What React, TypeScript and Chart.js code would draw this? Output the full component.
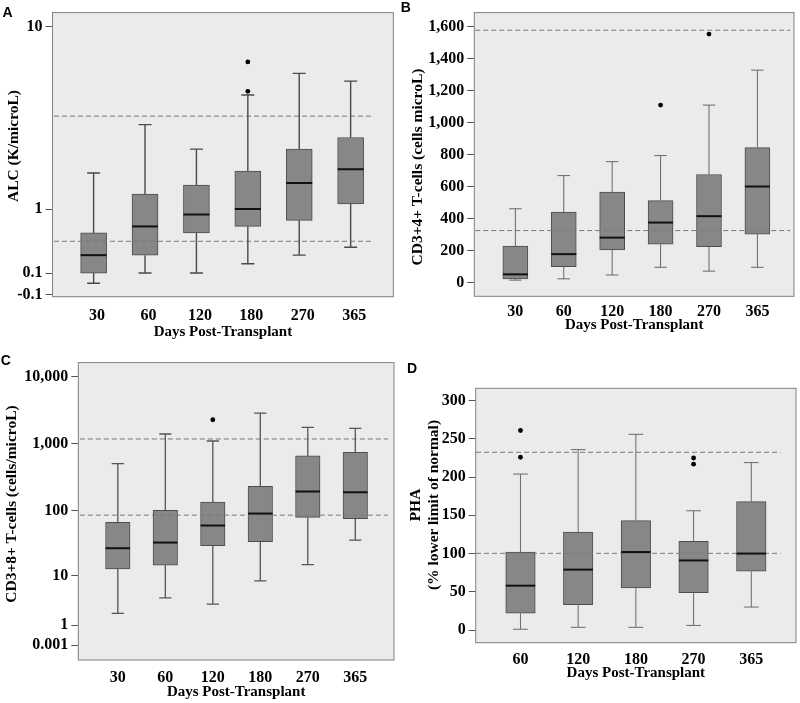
import React, { useEffect, useRef } from "react";
import { Chart, registerables } from "chart.js";

Chart.register(...registerables);

// ---------------- Data ----------------
// Panel A: ALC (K/microL)
const daysA = ["30", "60", "120", "180", "270", "365"];
const alcMin = [0.0, 0.1, 0.1, 0.2, 0.3, 0.4];
const alcQ1 = [0.1, 0.3, 0.6, 0.7, 0.8, 1.1];
const alcMedian = [0.3, 0.7, 0.9, 1.0, 1.55, 1.9];
const alcQ3 = [0.6, 1.3, 1.5, 1.85, 2.5, 2.9];
const alcMax = [1.8, 3.4, 2.5, 4.8, 6.1, 5.6];
const alcOutlierDays = ["180", "180"];
const alcOutlierValues = [5.0, 6.9];
const alcRefLines = [3.76, 0.48];
const alcTicks = [10, 1, 0.1, -0.1];
const alcTickLabels = ["10", "1", "0.1", "-0.1"];
const alcAxisRange = [-0.118, 11.52];

// Panel B: CD3+4+ T-cells
const daysB = ["30", "60", "120", "180", "270", "365"];
const cd4Min = [18, 26, 50, 98, 74, 98];
const cd4Q1 = [25, 102, 206, 242, 226, 305];
const cd4Median = [54, 180, 283, 377, 417, 602];
const cd4Q3 = [231, 442, 568, 514, 677, 845];
const cd4Max = [463, 670, 757, 795, 1110, 1328];
const cd4OutlierDays = ["180", "270"];
const cd4OutlierValues = [1110, 1553];
const cd4RefLines = [1577, 327];
const cd4Ticks = [0, 200, 400, 600, 800, 1000, 1200, 1400, 1600];
const cd4TickLabels = ["0", "200", "400", "600", "800", "1,000", "1,200", "1,400", "1,600"];
const cd4AxisRange = [-83, 1687];

// Panel C: CD3+8+ T-cells
const daysC = ["30", "60", "120", "180", "270", "365"];
const cd8Min = [2.0, 4.1, 3.1, 8.1, 14.9, 36];
const cd8Q1 = [12.7, 14.7, 29.6, 34, 79.5, 76];
const cd8Median = [27, 33, 60, 91, 195, 190];
const cd8Q3 = [67, 102, 135, 234, 663, 750];
const cd8Max = [510, 1409, 1108, 2893, 1767, 1709];
const cd8OutlierDays = ["120"];
const cd8OutlierValues = [2300];
const cd8RefLines = [1188, 86];
const cd8Ticks = [10000, 1000, 100, 10, 1, 0.001];
const cd8TickLabels = ["10,000", "1,000", "100", "10", "1", "0.001"];
const cd8AxisRange = [-0.396, 16345];

// Panel D: PHA (% lower limit of normal)
const daysD = ["60", "120", "180", "270", "365"];
const phaMin = [1, 3.5, 3.5, 6, 30];
const phaQ1 = [22, 33, 55, 49, 77];
const phaMedian = [58, 79, 102, 91, 100];
const phaQ3 = [102, 128, 143, 116, 168];
const phaMax = [204, 236, 256, 156, 219];
const phaOutlierDays = ["60", "60", "270", "270"];
const phaOutlierValues = [261, 226, 225, 217];
const phaRefLines = [232.5, 100.3];
const phaTicks = [0, 50, 100, 150, 200, 250, 300];
const phaTickLabels = ["0", "50", "100", "150", "200", "250", "300"];
const phaAxisRange = [-16.6, 316.2];

// ---------------- Helpers ----------------
const SERIF = '"Liberation Serif", "Times New Roman", serif';
const SANS = '"Liberation Sans", Arial, sans-serif';
const log1p10 = (v: number) => Math.log10(v + 1);
const identity = (v: number) => v;

type Panel = {
  letter: string;
  yTitle: string[];
  cats: string[];
  mins: number[];
  q1s: number[];
  meds: number[];
  q3s: number[];
  maxs: number[];
  outDays: string[];
  outVals: number[];
  refs: number[];
  ticks: number[];
  tickLabels: string[];
  range: number[];
  tf: (v: number) => number;
  box: { x: number; y: number; w: number; h: number };
  yAxisW: number;
  padTop: number;
  padRight: number;
  xAxisH: number;
  xMin: number;
  xMax: number;
  boxW: number;
  xTickPad: number;
  xTitlePad: number;
  labelOffset: number;
  refFrom: number;
  refTo: number;
  whiskerColor: string;
  whiskerWidth: number;
  letterPos: { x: number; y: number };
  titlePos: { x: number; y: number };
};

const panels: Panel[] = [
  {
    letter: "A",
    yTitle: ["ALC (K/microL)"],
    cats: daysA, mins: alcMin, q1s: alcQ1, meds: alcMedian, q3s: alcQ3, maxs: alcMax,
    outDays: alcOutlierDays, outVals: alcOutlierValues, refs: alcRefLines,
    ticks: alcTicks, tickLabels: alcTickLabels, range: alcAxisRange, tf: log1p10,
    box: { x: 0, y: 0, w: 400, h: 350 },
    yAxisW: 52.5, padTop: 5, padRight: 6.7, xAxisH: 53.3,
    xMin: -0.8, xMax: 5.83, boxW: 26, xTickPad: 10, xTitlePad: 9, labelOffset: 3.5,
    refFrom: -0.77, refTo: 5.41, whiskerColor: "#4a4a4a", whiskerWidth: 1.4,
    letterPos: { x: 2.5, y: 5 }, titlePos: { x: 12.5, y: 146 },
  },
  {
    letter: "B",
    yTitle: ["CD3+4+ T-cells (cells microL)"],
    cats: daysB, mins: cd4Min, q1s: cd4Q1, meds: cd4Median, q3s: cd4Q3, maxs: cd4Max,
    outDays: cd4OutlierDays, outVals: cd4OutlierValues, refs: cd4RefLines,
    ticks: cd4Ticks, tickLabels: cd4TickLabels, range: cd4AxisRange, tf: identity,
    box: { x: 400, y: 0, w: 400, h: 350 },
    yAxisW: 74.3, padTop: 2.7, padRight: 6, xAxisH: 53.7,
    xMin: -0.848, xMax: 5.756, boxW: 25, xTickPad: 6, xTitlePad: 16, labelOffset: 0,
    refFrom: -0.83, refTo: 5.68, whiskerColor: "#666666", whiskerWidth: 1,
    letterPos: { x: 400.7, y: 0 }, titlePos: { x: 416.7, y: 166.7 },
  },
  {
    letter: "C",
    yTitle: ["CD3+8+ T-cells (cells/microL)"],
    cats: daysC, mins: cd8Min, q1s: cd8Q1, meds: cd8Median, q3s: cd8Q3, maxs: cd8Max,
    outDays: cd8OutlierDays, outVals: cd8OutlierValues, refs: cd8RefLines,
    ticks: cd8Ticks, tickLabels: cd8TickLabels, range: cd8AxisRange, tf: log1p10,
    box: { x: 0, y: 350, w: 400, h: 353 },
    yAxisW: 78.3, padTop: 11.7, padRight: 6, xAxisH: 43,
    xMin: -0.832, xMax: 5.815, boxW: 24.5, xTickPad: 8.5, xTitlePad: 1.5, labelOffset: 0,
    refFrom: -0.8, refTo: 5.69, whiskerColor: "#555555", whiskerWidth: 1.3,
    letterPos: { x: 0.7, y: 353 }, titlePos: { x: 10.8, y: 504.2 },
  },
  {
    letter: "D",
    yTitle: ["PHA", "(% lower limit of normal)"],
    cats: daysD, mins: phaMin, q1s: phaQ1, meds: phaMedian, q3s: phaQ3, maxs: phaMax,
    outDays: phaOutlierDays, outVals: phaOutlierValues, refs: phaRefLines,
    ticks: phaTicks, tickLabels: phaTickLabels, range: phaAxisRange, tf: identity,
    box: { x: 400, y: 350, w: 400, h: 353 },
    yAxisW: 75.7, padTop: 38.3, padRight: 1.7, xAxisH: 60.3,
    xMin: -0.776, xMax: 4.775, boxW: 29.5, xTickPad: 8, xTitlePad: 20.5, labelOffset: 0,
    refFrom: -0.77, refTo: 4.51, whiskerColor: "#6a6a6a", whiskerWidth: 1,
    letterPos: { x: 407, y: 361 }, titlePos: { x: 424.2, y: 505.3 },
  },
];

function boxExtras(p: Panel) {
  return {
    id: "boxExtras" + p.letter,
    beforeDraw(chart: any) {
      const { ctx, chartArea: a } = chart;
      ctx.save();
      ctx.fillStyle = "#ebebeb";
      ctx.fillRect(a.left, a.top, a.right - a.left, a.bottom - a.top);
      ctx.restore();
    },
    afterDatasetsDraw(chart: any) {
      const { ctx } = chart;
      const xs = chart.scales.x;
      const ys = chart.scales.y;
      ctx.save();
      ctx.strokeStyle = p.whiskerColor;
      ctx.lineWidth = p.whiskerWidth;
      const hw = p.boxW / 4;
      p.cats.forEach((_c, i) => {
        const cx = xs.getPixelForValue(i);
        const yMax = ys.getPixelForValue(p.tf(p.maxs[i]));
        const yQ3 = ys.getPixelForValue(p.tf(p.q3s[i]));
        const yQ1 = ys.getPixelForValue(p.tf(p.q1s[i]));
        const yMin = ys.getPixelForValue(p.tf(p.mins[i]));
        ctx.beginPath();
        ctx.moveTo(cx, yMax);
        ctx.lineTo(cx, yQ3);
        ctx.moveTo(cx, yQ1);
        ctx.lineTo(cx, yMin);
        ctx.moveTo(cx - hw, yMax);
        ctx.lineTo(cx + hw, yMax);
        ctx.moveTo(cx - hw, yMin);
        ctx.lineTo(cx + hw, yMin);
        ctx.stroke();
      });
      ctx.strokeStyle = "#111111";
      ctx.lineWidth = 2;
      p.cats.forEach((_c, i) => {
        const cx = xs.getPixelForValue(i);
        const ym = ys.getPixelForValue(p.tf(p.meds[i]));
        ctx.beginPath();
        ctx.moveTo(cx - p.boxW / 2, ym);
        ctx.lineTo(cx + p.boxW / 2, ym);
        ctx.stroke();
      });
      ctx.restore();
    },
    afterDraw(chart: any) {
      const { ctx, chartArea: a } = chart;
      ctx.save();
      ctx.strokeStyle = "#808080";
      ctx.lineWidth = 1;
      ctx.strokeRect(a.left, a.top, a.right - a.left, a.bottom - a.top);
      ctx.restore();
    },
  };
}

function buildChart(canvas: HTMLCanvasElement, p: Panel) {
  const tickFont = { family: SERIF, weight: "bold" as const, size: 16 };
  const titleFont = { family: SERIF, weight: "bold" as const, size: 15 };
  const refSets = p.refs.map((r) => ({
    type: "line" as const,
    data: [
      { x: p.refFrom, y: p.tf(r) },
      { x: p.refTo, y: p.tf(r) },
    ],
    borderColor: "#7a7a7a",
    borderWidth: 1,
    borderDash: [5, 3],
    pointRadius: 0,
    fill: false,
    order: 0,
  }));
  const outlierSet = {
    type: "scatter" as const,
    data: p.outDays.map((d, i) => ({ x: p.cats.indexOf(d), y: p.tf(p.outVals[i]) })),
    backgroundColor: "#000000",
    borderWidth: 0,
    pointRadius: 2.4,
    order: 1,
  };
  const boxSet = {
    type: "bar" as const,
    data: p.cats.map((_c, i) => ({ x: i, y: [p.tf(p.q1s[i]), p.tf(p.q3s[i])] })),
    backgroundColor: "#878787",
    borderColor: "#4d4d4d",
    borderWidth: 1,
    borderSkipped: false,
    barThickness: p.boxW,
    order: 2,
  };
  return new Chart(canvas, {
    type: "bar",
    data: { datasets: [...refSets, outlierSet, boxSet] as any },
    options: {
      responsive: false,
      animation: false,
      devicePixelRatio: 1,
      events: [],
      layout: { padding: { left: 0, top: p.padTop, right: p.padRight, bottom: 0 } },
      plugins: { legend: { display: false }, tooltip: { enabled: false } },
      scales: {
        x: {
          type: "linear",
          min: p.xMin,
          max: p.xMax,
          offset: false,
          afterBuildTicks: (ax: any) => {
            ax.ticks = p.cats.map((_c, i) => ({ value: i }));
          },
          afterFit: (ax: any) => {
            ax.height = p.xAxisH;
          },
          ticks: {
            callback: (v: any) => p.cats[Math.round(Number(v))],
            font: tickFont,
            color: "#000000",
            padding: p.xTickPad,
            autoSkip: false,
            maxRotation: 0,
            minRotation: 0,
            labelOffset: p.labelOffset,
          },
          grid: { display: false, drawTicks: false, tickLength: 0, offset: false },
          border: { display: false },
          title: {
            display: true,
            text: "Days Post-Transplant",
            font: titleFont,
            color: "#000000",
            padding: { top: 0, bottom: p.xTitlePad },
          },
        },
        y: {
          type: "linear",
          min: p.tf(p.range[0]),
          max: p.tf(p.range[1]),
          afterBuildTicks: (ax: any) => {
            ax.ticks = p.ticks.map((t) => ({ value: p.tf(t) }));
          },
          afterFit: (ax: any) => {
            ax.width = p.yAxisW;
          },
          ticks: {
            callback: (_v: any, i: number) => p.tickLabels[i],
            font: tickFont,
            color: "#000000",
            padding: 3,
            autoSkip: false,
          },
          grid: {
            display: true,
            drawOnChartArea: false,
            drawTicks: true,
            tickLength: 7,
            color: "#555555",
            lineWidth: 1,
          },
          border: { display: false },
        },
      },
    } as any,
    plugins: [boxExtras(p)],
  });
}

function PanelChart({ p }: { p: Panel }) {
  const ref = useRef<HTMLCanvasElement>(null);
  useEffect(() => {
    if (!ref.current) return;
    const chart = buildChart(ref.current, p);
    return () => chart.destroy();
  }, [p]);
  return (
    <>
      <canvas
        ref={ref}
        width={p.box.w}
        height={p.box.h}
        style={{ position: "absolute", left: p.box.x, top: p.box.y, width: p.box.w, height: p.box.h }}
      />
      <div
        style={{
          position: "absolute",
          left: p.letterPos.x,
          top: p.letterPos.y,
          font: `bold 14px ${SANS}`,
          lineHeight: "14px",
          color: "#000",
        }}
      >
        {p.letter}
      </div>
      <div
        style={{
          position: "absolute",
          left: p.titlePos.x,
          top: p.titlePos.y,
          transform: "translate(-50%, -50%) rotate(-90deg)",
          font: `bold 15.5px ${SERIF}`,
          lineHeight: "18px",
          whiteSpace: "nowrap",
          textAlign: "center",
          color: "#000",
        }}
      >
        {p.yTitle.map((t, i) => (
          <div key={i}>{t}</div>
        ))}
      </div>
    </>
  );
}

export default function App() {
  return (
    <div
      style={{
        position: "absolute",
        left: 0,
        top: 0,
        width: 800,
        height: 703,
        background: "#ffffff",
        overflow: "hidden",
      }}
    >
      {panels.map((p) => (
        <PanelChart key={p.letter} p={p} />
      ))}
    </div>
  );
}
